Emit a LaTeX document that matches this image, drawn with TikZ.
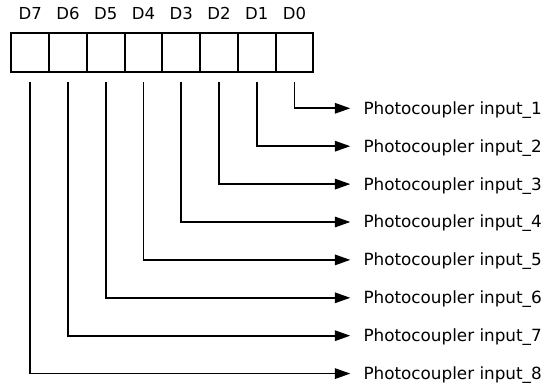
\documentclass[tikz,border=0pt]{standalone}
\usepackage{fontspec}
\setmainfont{DejaVu Sans}
\usetikzlibrary{arrows.meta}
\begin{document}
\begin{tikzpicture}[x=1pt,y=-1pt,
  bitbox/.style={draw,line width=2pt,minimum width=37.75pt,minimum height=38.5pt,inner sep=0pt,outer sep=0pt},
  bitlabel/.style={inner sep=0pt,text height=12pt,text depth=0pt,font=\fontsize{16.5}{18}\selectfont},
  outlabel/.style={inner sep=0pt,anchor=west,text height=12pt,text depth=0pt,font=\fontsize{16.8}{19}\selectfont},
  wire/.style={line width=1.7pt,-{Triangle[length=15.5pt,width=10.5pt]}}]
\useasboundingbox (0,0) rectangle (552,390);
\foreach \i in {0,...,7}{
  \pgfmathsetmacro{\bx}{294.5-37.75*\i}
  \pgfmathsetmacro{\ry}{108.3+37.9*\i}
  \pgfmathtruncatemacro{\n}{\i+1}
  \node[bitbox] (b\i) at (\bx,52.5) {};
  \node[bitlabel] (d\i) at (\bx,13.3) {D\i};
  \coordinate (s\i) at (\bx,82.5);
  \node[outlabel] (t\i) at (363.3,\ry) {Photocoupler input\_\n};
  \draw[wire] (s\i) |- ([xshift=-13pt]t\i.west);
}
\end{tikzpicture}
\end{document}
